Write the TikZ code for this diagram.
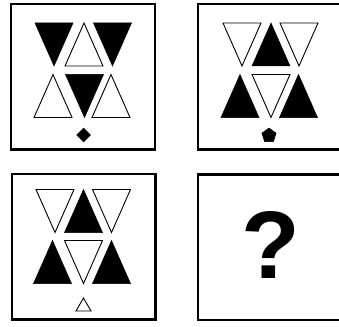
\documentclass[tikz,border=0pt]{standalone}
\usepackage{fontspec}
\setmainfont{Liberation Sans}
\usetikzlibrary{shapes.geometric, positioning}

\tikzset{
    tri up/.pic={\path[pic actions] (0,-21.5) -- (19,21.5) -- (-19,21.5) -- cycle;},
    tri down/.pic={\path[pic actions] (-19,-21.5) -- (19,-21.5) -- (0,21.5) -- cycle;}
}

\begin{document}
\begin{tikzpicture}[x=1pt, y=-1pt,
    panel/.style={rectangle, draw, line width=2.4pt, minimum width=143.6pt, minimum height=145.6pt, inner sep=0pt},
    blk/.style={fill=black, draw=black, line width=0.5pt, line join=miter},
    wht/.style={fill=white, draw=black, line width=0.9pt, line join=miter},
    token/.style={fill=black, draw=black, line width=0.5pt, inner sep=0pt}]

    \useasboundingbox (0,0) rectangle (339,326);

    % Panels
    \node [panel] (p1) at (83,76.7) {};
    \node [panel] (p2) at (269.7,76.7) {};
    \node [panel] (p3) at (83.5,246.7) {};
    \node [panel] (p4) at (269.7,247.2) {};

    % Panel 1
    \foreach \x/\s/\t in {54/blk/tri down, 84/wht/tri up, 112.5/blk/tri down}
        \pic [\s] at (\x,44.5) {\t};
    \foreach \x/\s/\t in {53/wht/tri up, 84.5/blk/tri down, 111/wht/tri up}
        \pic [\s] at (\x,96) {\t};
    \node [token, diamond, minimum width=14pt, minimum height=14pt] (dia) at (83.5,135) {};

    % Panel 2
    \foreach \x/\s/\t in {242/wht/tri down, 271/blk/tri up, 299/wht/tri down}
        \pic [\s] at (\x,44.5) {\t};
    \foreach \x/\s/\t in {240/blk/tri up, 271/wht/tri down, 298.5/blk/tri up}
        \pic [\s] at (\x,96) {\t};
    \node [token, regular polygon, regular polygon sides=5, minimum size=15pt] (pent) at (269,135.5) {};

    % Panel 3
    \foreach \x/\s/\t in {55/wht/tri down, 83.5/blk/tri up, 111.5/wht/tri down}
        \pic [\s] at (\x,211) {\t};
    \foreach \x/\s/\t in {52.5/blk/tri up, 83.5/wht/tri down, 111.5/blk/tri up}
        \pic [\s] at (\x,262) {\t};
    \draw [wht] (83.5,298) -- (91,311) -- (76,311) -- cycle;

    % Panel 4
    \node [font=\fontsize{96}{96}\selectfont\bfseries] (qm) at (270.5,245) {?};

\end{tikzpicture}
\end{document}
